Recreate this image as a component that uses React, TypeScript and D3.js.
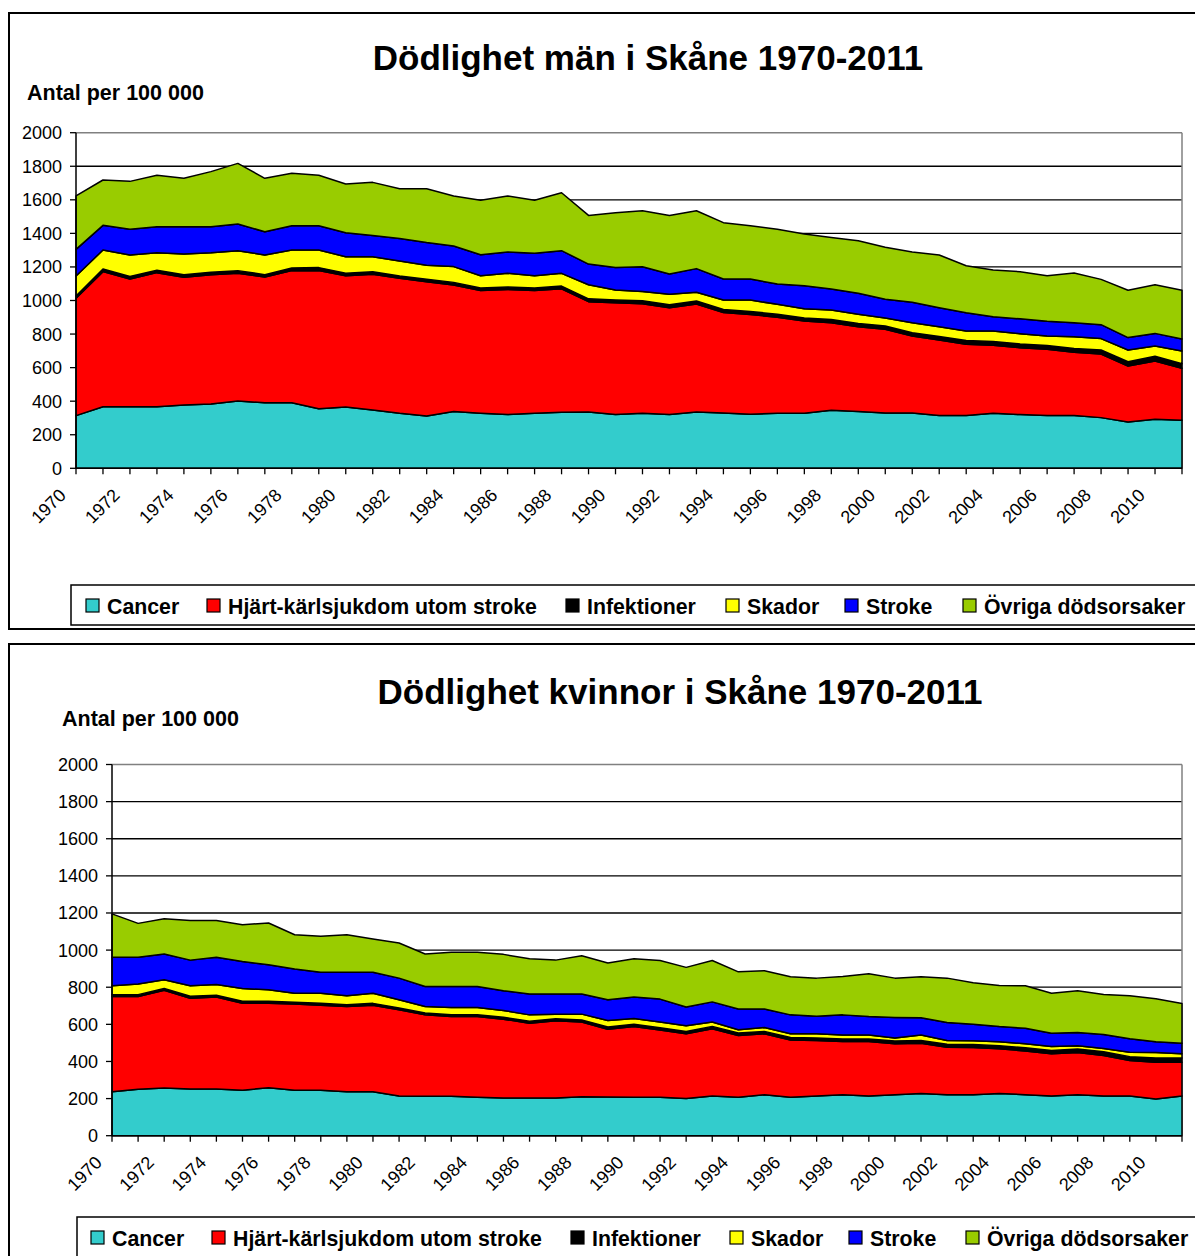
import React from 'react';
import * as d3 from 'd3';

const years = [1970,1971,1972,1973,1974,1975,1976,1977,1978,1979,1980,1981,1982,1983,1984,1985,1986,1987,1988,1989,1990,1991,1992,1993,1994,1995,1996,1997,1998,1999,2000,2001,2002,2003,2004,2005,2006,2007,2008,2009,2010,2011];
const xTickLabels = ['1970','1972','1974','1976','1978','1980','1982','1984','1986','1988','1990','1992','1994','1996','1998','2000','2002','2004','2006','2008','2010'];
const yTicks = [0,200,400,600,800,1000,1200,1400,1600,1800,2000];
const seriesKeys = ['cancer','hjart','infekt','skador','stroke','ovriga'];
const seriesNames = ['Cancer','Hjärt-kärlsjukdom utom stroke','Infektioner','Skador','Stroke','Övriga dödsorsaker'];
const seriesColors = ['#33CCCC','#FF0000','#000000','#FFFF00','#0000FF','#99CC00'];

// Män
const menCancer = [314,367,367,367,377,383,401,391,391,355,365,348,328,312,338,328,320,328,334,336,320,328,320,336,330,322,328,328,346,338,330,330,314,314,328,320,314,314,302,276,292,286];
const menHjart = [699,805,761,799,761,771,761,749,787,823,783,808,804,800,754,731,746,731,736,657,667,653,637,643,599,595,572,550,522,506,498,458,451,425,405,399,395,377,379,334,348,310];
const menInfekt = [14,16,15,14,15,15,16,14,16,18,15,15,14,15,16,15,15,16,16,17,16,17,17,18,17,18,18,18,19,19,20,20,21,22,22,22,23,23,24,25,28,27];
const menSkador = [119,113,128,105,124,116,119,117,107,105,98,90,89,83,94,74,81,73,76,84,59,55,63,52,57,68,59,55,56,55,48,60,58,57,63,61,56,70,68,70,61,76];
const menStroke = [159,147,153,155,163,155,159,139,145,145,143,127,135,135,123,125,127,133,135,123,134,148,121,141,125,125,121,137,125,125,111,121,113,109,85,89,88,84,83,74,75,72];
const menOvriga = [318,270,286,306,288,328,361,318,312,300,290,316,296,321,298,324,334,316,345,290,327,334,349,345,336,318,326,308,308,313,310,300,314,280,279,281,272,296,270,282,290,290];

// Kvinnor
const womenCancer = [237,250,257,252,252,245,259,245,245,237,237,214,212,212,207,203,203,203,210,208,207,207,200,214,207,221,207,214,221,214,221,228,221,221,228,221,214,221,214,214,198,214];
const womenHjart = [513,500,526,489,495,469,455,464,458,459,466,464,439,430,435,425,403,416,402,366,381,363,349,362,333,328,309,299,286,293,274,270,256,254,240,236,227,227,218,191,198,182];
const womenInfekt = [10,10,10,10,10,10,10,10,10,10,10,10,10,10,10,10,11,11,11,12,12,12,12,13,13,13,13,14,14,14,15,15,16,16,17,17,18,19,20,21,22,22];
const womenSkador = [48,57,47,57,58,69,62,49,55,48,55,44,35,39,39,37,34,25,32,35,31,31,31,24,18,21,20,22,21,21,17,29,20,20,21,21,21,17,18,24,30,23];
const womenStroke = [153,144,139,138,146,146,135,130,113,127,113,117,108,113,113,106,112,108,108,111,116,123,101,108,112,100,102,95,109,100,110,93,97,90,82,84,72,72,75,72,58,57];
const womenOvriga = [234,183,190,214,199,198,225,185,193,202,179,189,175,184,184,196,190,183,207,198,206,208,214,223,200,206,205,205,207,231,212,221,239,223,221,229,216,225,216,232,232,214];

const FONT = "'Liberation Sans', Arial, Helvetica, sans-serif";

type Layout = {
  frameY: number; frameH: number;
  title: string; titleX: number; titleY: number;
  unitX: number; unitY: number;
  left: number; right: number; top: number; bottom: number;
  legendY: number; legendX: number; legendSquares: number[];
};

function Chart({ layout, data }: { layout: Layout; data: number[][] }) {
  const L = layout;
  const x = d3.scaleLinear().domain([years[0], years[years.length - 1]]).range([L.left, L.right]);
  const y = d3.scaleLinear().domain([0, 2000]).range([L.bottom, L.top]);
  const rows = years.map((yr, i) => {
    const r: any = { year: yr };
    seriesKeys.forEach((k, j) => { r[k] = data[j][i]; });
    return r;
  });
  const stacked = d3.stack<any>().keys(seriesKeys)(rows);
  const area = d3.area<any>()
    .x((d: any) => x(d.data.year))
    .y0((d: any) => y(d[0]))
    .y1((d: any) => y(d[1]));

  return (
    <g>
      <rect x={9} y={L.frameY} width={1300} height={L.frameH} fill="#fff" stroke="#000" strokeWidth={2} />
      <text x={L.titleX} y={L.titleY} textAnchor="middle" fontFamily={FONT} fontWeight="bold" fontSize={35}>{L.title}</text>
      <text x={L.unitX} y={L.unitY} fontFamily={FONT} fontWeight="bold" fontSize={21.5}>Antal per 100 000</text>
      {/* gridlines */}
      {yTicks.filter(t => t > 0 && t < 2000).map(t => (
        <line key={'g' + t} x1={L.left} x2={L.right} y1={y(t)} y2={y(t)} stroke="#000" strokeWidth={1.3} />
      ))}
      <line x1={L.left} x2={L.right} y1={y(2000)} y2={y(2000)} stroke="#808080" strokeWidth={1.5} />
      <line x1={L.right} x2={L.right} y1={y(2000)} y2={y(0)} stroke="#808080" strokeWidth={1.5} />
      {/* areas */}
      {stacked.map((s, j) => (
        <path key={s.key} d={area(s) || ''} fill={seriesColors[j]} stroke="#000" strokeWidth={1.5} strokeLinejoin="round" />
      ))}
      {/* y axis */}
      <line x1={L.left} x2={L.left} y1={y(2000)} y2={y(0)} stroke="#000" strokeWidth={1.5} />
      {yTicks.map(t => (
        <g key={'y' + t}>
          <line x1={L.left - 6} x2={L.left} y1={y(t)} y2={y(t)} stroke="#000" strokeWidth={1.3} />
          <text x={L.left - 14} y={y(t) + 6.5} textAnchor="end" fontFamily={FONT} fontSize={18}>{t}</text>
        </g>
      ))}
      {/* x axis */}
      <line x1={L.left} x2={L.right} y1={y(0)} y2={y(0)} stroke="#000" strokeWidth={1.5} />
      {years.map(yr => (
        <line key={'xt' + yr} x1={x(yr)} x2={x(yr)} y1={y(0)} y2={y(0) + 6} stroke="#000" strokeWidth={1.3} />
      ))}
      {xTickLabels.map(lbl => {
        const ax = x(+lbl) - 9;
        const ay = y(0) + 28;
        return (
          <text key={'xl' + lbl} x={ax} y={ay} textAnchor="end" fontFamily={FONT} fontSize={18}
            transform={`rotate(-45 ${ax} ${ay})`}>{lbl}</text>
        );
      })}
      {/* legend */}
      <rect x={L.legendX} y={L.legendY} width={1300} height={40} fill="#fff" stroke="#000" strokeWidth={1.5} />
      {seriesNames.map((name, j) => (
        <g key={'lg' + j}>
          <rect x={L.legendSquares[j]} y={L.legendY + 14} width={13} height={13} fill={seriesColors[j]} stroke="#000" strokeWidth={1.2} />
          <text x={L.legendSquares[j] + 21} y={L.legendY + 29} fontFamily={FONT} fontWeight="bold" fontSize={21.3}>{name}</text>
        </g>
      ))}
    </g>
  );
}

const menLayout: Layout = {
  frameY: 13, frameH: 616,
  title: 'Dödlighet män i Skåne 1970-2011', titleX: 648, titleY: 70,
  unitX: 27, unitY: 100,
  left: 76, right: 1182, top: 132.7, bottom: 468.3,
  legendY: 585, legendX: 71, legendSquares: [86, 207, 566, 726, 845, 963],
};

const womenLayout: Layout = {
  frameY: 644, frameH: 700,
  title: 'Dödlighet kvinnor i Skåne 1970-2011', titleX: 680, titleY: 704,
  unitX: 62, unitY: 726,
  left: 112, right: 1182, top: 764.5, bottom: 1135.7,
  legendY: 1217, legendX: 77, legendSquares: [91, 212, 571, 730, 849, 966],
};

export default function App() {
  return (
    <svg width={1195} height={1256} style={{ position: 'absolute', left: 0, top: 0, background: '#fff' }}>
      <rect x={0} y={0} width={1195} height={1256} fill="#fff" />
      <Chart layout={menLayout} data={[menCancer, menHjart, menInfekt, menSkador, menStroke, menOvriga]} />
      <Chart layout={womenLayout} data={[womenCancer, womenHjart, womenInfekt, womenSkador, womenStroke, womenOvriga]} />
    </svg>
  );
}
